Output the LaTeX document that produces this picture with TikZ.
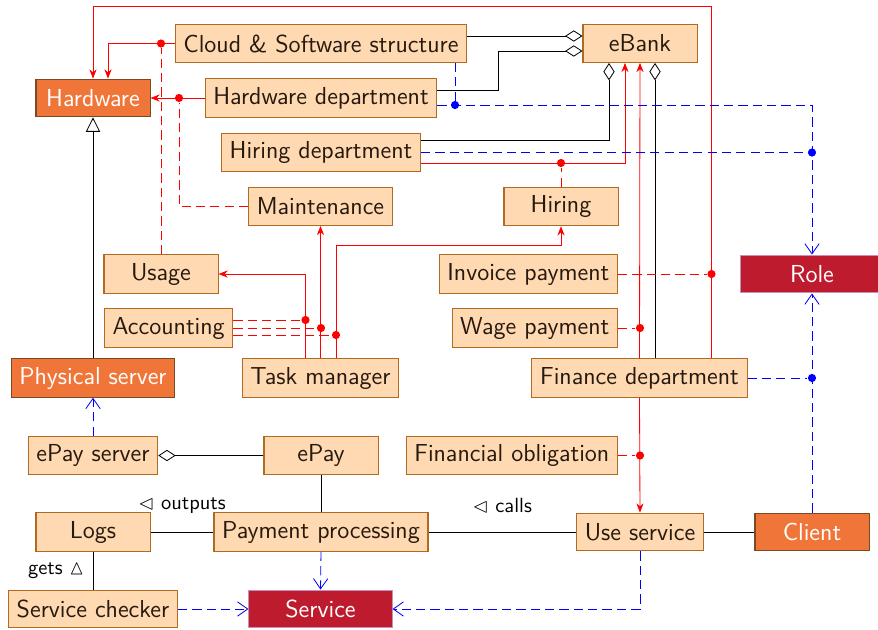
\documentclass[tikz,border=0pt]{standalone}
\usepackage{amsmath}
\usepackage{amssymb}
\usepackage{tikz}
\usepackage{color}
\usetikzlibrary{arrows.meta}
\definecolor{hwfill}{HTML}{F07538}
\definecolor{hwline}{HTML}{7A4A25}
\definecolor{rolefill}{HTML}{BE1B2F}
\definecolor{roleline}{HTML}{C890B8}
\definecolor{boxline}{HTML}{B06A22}
\tikzset{
  classnode/.style = {rectangle, align=center, inner sep=4pt,
    font=\sffamily\large, minimum width=55.7pt, minimum height=18.5pt,
    line width=0.5pt},
  cls_box/.style = {classnode, fill=orange!30, draw=boxline,
    text=black!80!brown},% classe simple
  cls_hw/.style = {classnode, fill=hwfill, draw=hwline, text=white},% classe forte
  cls_role/.style = {classnode, fill=rolefill, draw=roleline, text=white,
    minimum width=69.9pt},% interface
  jdot/.style = {circle, fill, inner sep=0pt, minimum size=4pt},% jonction
  lnk_assoc/.style = {red, -{Stealth[length=4.5pt,width=3.5pt]}},
  lnk_class/.style = {red, dash pattern=on 4.5pt off 2.5pt},
  lnk_dep/.style = {blue, dash pattern=on 4.5pt off 2.5pt,
    -{Straight Barb[length=5pt,width=7pt]}},
  lnk_dot/.style = {blue, dash pattern=on 4.5pt off 2.5pt},
  lnk_aggr/.style = {-{Diamond[open,length=8.5pt,width=5.5pt]}},
  lnk_gen/.style = {-{Triangle[open,length=7pt,width=7pt]}},
  lbl/.style = {font=\sffamily}
}
\begin{document}
\begin{tikzpicture}[x=0.4885pt, y=-0.4885pt]
\useasboundingbox (0,0) rectangle (878,629);
% classes
\node[cls_box] (cloud) at (321,43.5) {Cloud \& Software structure};
\node[cls_box] (ebank) at (640,43.5) {eBank};
\node[cls_hw] (hardware) at (93,98) {Hardware};
\node[cls_box] (hwdep) at (321,98) {Hardware department};
\node[cls_box] (hirdep) at (321,152.5) {Hiring department};
\node[cls_box] (maint) at (320.5,206.5) {Maintenance};
\node[cls_box] (hiring) at (561,206.5) {Hiring};
\node[cls_box] (usage) at (161,274) {Usage};
\node[cls_box, anchor=east] (invoice) at (618,274) {Invoice payment};
\node[cls_role] (role) at (812,274) {Role};
\node[cls_box, anchor=west] (accounting) at (104,328) {Accounting};
\node[cls_box, anchor=east] (wage) at (618,328) {Wage payment};
\node[cls_hw] (physical) at (93,378) {Physical server};
\node[cls_box] (task) at (320.5,378) {Task manager};
\node[cls_box] (finance) at (639.5,378) {Finance department};
\node[cls_box] (epayserver) at (93,455.5) {ePay server};
\node[cls_box] (epay) at (321,455.5) {ePay};
\node[cls_box, anchor=east] (oblig) at (618,455.5) {Financial obligation};
\node[cls_box] (logs) at (93,532) {Logs};
\node[cls_box] (payment) at (321,532) {Payment processing};
\node[cls_box] (useservice) at (640,532) {Use service};
\node[cls_hw] (client) at (812,532) {Client};
\node[cls_box] (checker) at (93,609) {Service checker};
\node[cls_role] (service) at (320.5,609) {Service};
% points de jonction
\node[jdot, red] (j_usage) at (161,43.5) {};
\node[jdot, red] (j_maint) at (179,98) {};
\node[jdot, red] (j_hiring) at (561,163) {};
\node[jdot, red] (j_invoice) at (711.5,274) {};
\node[jdot, red] (j_wage) at (640,328) {};
\node[jdot, red] (j_oblig) at (640,455.5) {};
\node[jdot, red] (j_acc1) at (305.5,320) {};
\node[jdot, red] (j_acc2) at (321,328) {};
\node[jdot, red] (j_acc3) at (336,335) {};
\node[jdot, blue] (j_cloud) at (455,105) {};
\node[jdot, blue] (j_hirdep) at (812,152.5) {};
\node[jdot, blue] (j_finance) at (812,378) {};
% aggregations vers eBank
\draw[lnk_aggr] (cloud.east |- 0,36) -- (ebank.west |- 0,36);
\draw[lnk_aggr] (hwdep.east |- 0,90) -| (498,51) -- (ebank.west |- 0,51);
\draw[lnk_aggr] (hirdep.east |- 0,140) -| (ebank.south -| 609,0);
\draw[lnk_aggr] (finance.north -| 655,0) -- (ebank.south -| 655,0);
% associations
\draw[lnk_assoc] (finance.north -| j_invoice) -- (711.5,6) -| (hardware.north);
\draw[lnk_assoc] (cloud.west) -| (hardware.north -| 108,0);
\draw[lnk_assoc] (hwdep.west) -- (hardware.east);
\draw[lnk_assoc] (hirdep.east |- j_hiring) -| (ebank.south -| 625,0);
\draw[lnk_assoc] (finance.north) -- (ebank.south);
\draw[lnk_assoc] (finance.south) -- (useservice.north);
\draw[lnk_assoc] (task.north -| j_acc1) |- (usage.east);
\draw[lnk_assoc] (task.north) -- (maint.south);
\draw[lnk_assoc] (task.north -| j_acc3) |- (561,245) -- (hiring.south);
% classes d'association
\draw[lnk_class] (usage.north) -- (j_usage);
\draw[lnk_class] (maint.west) -| (j_maint);
\draw[lnk_class] (hiring.north) -- (j_hiring);
\draw[lnk_class] (invoice.east) -- (j_invoice);
\draw[lnk_class] (wage.east) -- (j_wage);
\draw[lnk_class] (oblig.east) -- (j_oblig);
\draw[lnk_class] (accounting.east |- j_acc1) -- (j_acc1);
\draw[lnk_class] (accounting.east |- j_acc2) -- (j_acc2);
\draw[lnk_class] (accounting.east |- j_acc3) -- (j_acc3);
% realisations
\draw[lnk_dep] (hwdep.east |- j_cloud) -| (role.north);
\draw[lnk_dot] (cloud.south -| j_cloud) -- (j_cloud);
\draw[lnk_dot] (hirdep.east) -- (j_hirdep);
\draw[lnk_dep] (client.north) -- (role.south);
\draw[lnk_dot] (finance.east) -- (j_finance);
\draw[lnk_dep] (epayserver.north) -- (physical.south);
\draw[lnk_dep] (payment.south) -- (service.north);
\draw[lnk_dep] (checker.east) -- (service.west);
\draw[lnk_dep] (useservice.south) |- (service.east);
% le reste
\draw[lnk_gen] (physical.north) -- (hardware.south);
\draw[lnk_aggr] (epay.west) -- (epayserver.east);
\draw (epay.south) -- (payment.north);
\draw (logs.east) -- node[lbl, yshift=13pt] (l_outputs)
  {$\vartriangleleft$ outputs} (payment.west);
\draw (payment.east) -- node[lbl, yshift=13pt] (l_calls)
  {$\vartriangleleft$ calls} (useservice.west);
\draw (useservice.east) -- (client.west);
\draw (logs.south) -- node[lbl, xshift=-18pt] (l_gets)
  {gets $\vartriangle$} (checker.north);
\end{tikzpicture}
\end{document}
